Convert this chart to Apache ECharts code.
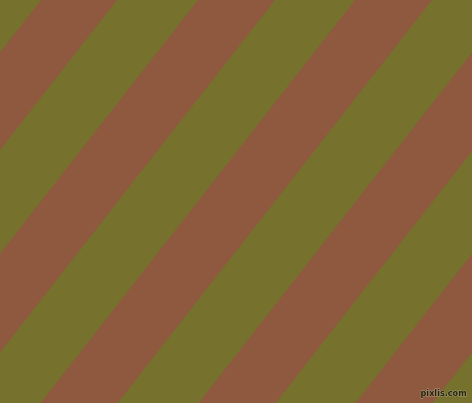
<!DOCTYPE html>
<html>
<head>
<meta charset="utf-8">
<style>
  html, body { margin: 0; padding: 0; background: #76712c; }
  #chart { width: 472px; height: 403px; }
</style>
<script src="https://cdn.jsdelivr.net/npm/echarts@6/dist/echarts.min.js"></script>
</head>
<body>
<div id="chart"></div>
<script>
// brown bands, given by where their left and right edges meet the top edge (px)
const bandLeftTop = [-116, 41, 198, 355, 513, 670];
const bandRightTop = [-39, 117, 275, 432, 590, 747];
const canvasW = 472;
const canvasH = 403;
const lean = 0.78; // horizontal shift per pixel down

const OLIVE = "#76712c";
const BROWN = "#8e593f";

const bands = bandLeftTop.map((l, i) => [l, bandRightTop[i]]);

const chart = echarts.init(document.getElementById("chart"), null, { renderer: "canvas" });
chart.setOption({
  animation: false,
  backgroundColor: OLIVE,
  grid: { left: 0, right: 0, top: 0, bottom: 0 },
  xAxis: { type: "value", min: 0, max: canvasW, show: false },
  yAxis: { type: "value", min: 0, max: canvasH, inverse: true, show: false },
  series: [{
    type: "custom",
    data: bands,
    clip: true,
    renderItem(params, api) {
      const l = api.value(0), r = api.value(1);
      const drop = lean * canvasH;
      const pts = [
        api.coord([l, 0]),
        api.coord([r, 0]),
        api.coord([r - drop, canvasH]),
        api.coord([l - drop, canvasH])
      ];
      return {
        type: "polygon",
        shape: { points: pts },
        style: { fill: BROWN }
      };
    }
  }],
  graphic: [{
    type: "text",
    right: 5,
    bottom: 4,
    z: 100,
    style: {
      text: "pixlis.com",
      font: "bold 9px 'DejaVu Sans Condensed', sans-serif",
      fill: "#26250e",
      stroke: "rgba(190,188,160,0.7)",
      lineWidth: 0.8
    }
  }]
});
</script>
</body>
</html>
